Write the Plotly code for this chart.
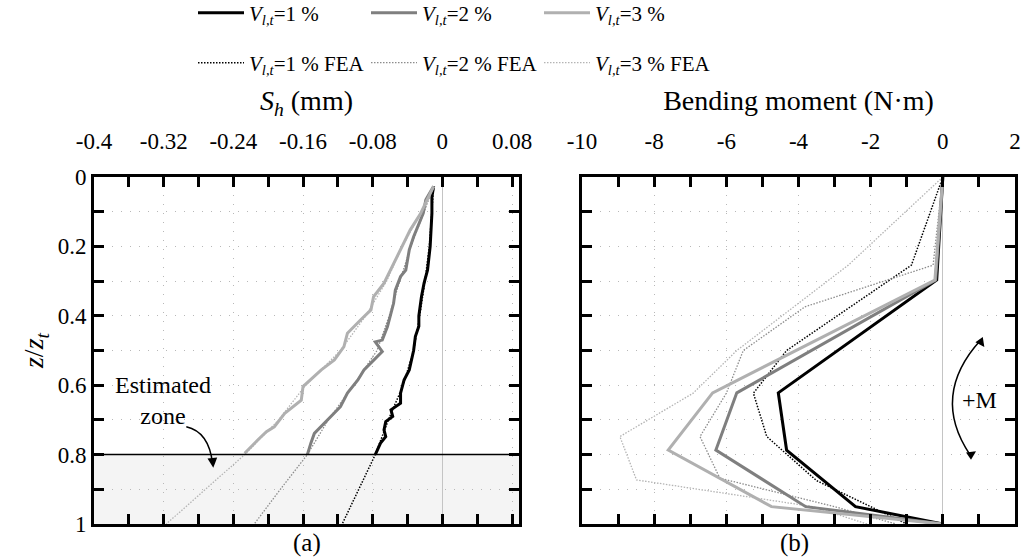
import plotly.graph_objects as go

# ---------------- data ----------------
# Panel (a): horizontal displacement S_h (mm) vs depth ratio z/z_t
sh_y_1 = [0.027, 0.057, 0.105, 0.20, 0.268, 0.306, 0.345, 0.40, 0.43, 0.46, 0.50, 0.527, 0.556, 0.585,
          0.623, 0.652, 0.671, 0.69, 0.705, 0.729, 0.748, 0.767, 0.787, 0.80]
sh_x_1 = [-0.010, -0.012, -0.012, -0.014, -0.017, -0.021, -0.024, -0.027, -0.027, -0.031, -0.033, -0.035,
          -0.038, -0.044, -0.048, -0.048, -0.059, -0.057, -0.065, -0.067, -0.065, -0.071, -0.075, -0.077]

sh_y_2 = [0.027, 0.066, 0.105, 0.172, 0.21, 0.268, 0.287, 0.326, 0.364, 0.431, 0.47, 0.475, 0.503, 0.527,
          0.556, 0.585, 0.623, 0.662, 0.70, 0.739, 0.767, 0.80]
sh_x_2 = [-0.010, -0.019, -0.022, -0.033, -0.038, -0.042, -0.048, -0.054, -0.056, -0.063, -0.069, -0.077,
          -0.069, -0.079, -0.090, -0.097, -0.109, -0.117, -0.132, -0.147, -0.151, -0.155]

sh_y_3 = [0.027, 0.076, 0.105, 0.153, 0.20, 0.249, 0.287, 0.306, 0.345, 0.383, 0.412, 0.45, 0.489, 0.527,
          0.556, 0.575, 0.604, 0.643, 0.662, 0.681, 0.72, 0.734, 0.758, 0.796]
sh_x_3 = [-0.010, -0.020, -0.025, -0.037, -0.046, -0.056, -0.063, -0.067, -0.079, -0.082, -0.094, -0.109,
          -0.113, -0.124, -0.139, -0.147, -0.160, -0.162, -0.172, -0.181, -0.193, -0.202, -0.212, -0.227]

sh_fea_y = [0.027, 0.1, 0.2, 0.3, 0.4, 0.5, 0.6, 0.7, 0.8, 0.9, 1.0]
sh_fea_1 = [-0.010, -0.012, -0.015, -0.020, -0.026, -0.033, -0.045, -0.062, -0.077, -0.096, -0.115]
sh_fea_2 = [-0.010, -0.021, -0.036, -0.049, -0.061, -0.075, -0.102, -0.131, -0.155, -0.186, -0.216]
sh_fea_3 = [-0.010, -0.024, -0.046, -0.064, -0.088, -0.117, -0.157, -0.188, -0.227, -0.272, -0.317]

# Panel (b): bending moment (N·m) vs z/z_t
bm_y = [0.0, 0.297, 0.622, 0.787, 0.95, 1.0]
bm_1 = [0.0, -0.17, -4.56, -4.33, -2.42, 0.0]
bm_2 = [0.0, -0.20, -5.71, -6.29, -3.80, 0.0]
bm_3 = [0.0, -0.22, -6.38, -7.61, -4.75, 0.0]

bm_fea_y_1 = [0.0, 0.254, 0.50, 0.623, 0.748, 0.875, 1.0]
bm_fea_1 = [0.0, -0.87, -4.33, -5.25, -4.88, -3.50, -1.00]
bm_fea_y_2 = [0.0, 0.254, 0.374, 0.50, 0.623, 0.748, 0.868, 0.95, 1.0]
bm_fea_2 = [0.0, -0.27, -3.82, -5.53, -6.00, -6.73, -6.18, -3.00, -1.30]
bm_fea_y_3 = [0.0, 0.254, 0.50, 0.623, 0.748, 0.873, 0.95, 1.0]
bm_fea_3 = [0.0, -2.62, -5.71, -6.92, -8.95, -8.49, -3.60, -2.10]

# axis ticks
sh_tickvals = [-0.4, -0.32, -0.24, -0.16, -0.08, 0.0, 0.08]
sh_ticktext = ["-0.4", "-0.32", "-0.24", "-0.16", "-0.08", "0", "0.08"]
bm_tickvals = [-10, -8, -6, -4, -2, 0, 2]
bm_ticktext = ["-10", "-8", "-6", "-4", "-2", "0", "2"]
z_tickvals = [0, 0.1, 0.2, 0.3, 0.4, 0.5, 0.6, 0.7, 0.8, 0.9, 1.0]
z_ticktext = ["0", "", "0.2", "", "0.4", "", "0.6", "", "0.8", "", "1"]

series_names = ["<i>V</i><sub><i>l,t</i></sub>=1 %", "<i>V</i><sub><i>l,t</i></sub>=2 %",
                "<i>V</i><sub><i>l,t</i></sub>=3 %"]
fea_names = [n + " FEA" for n in series_names]

# ---------------- style ----------------
FONT = "Liberation Serif"
TICK_FS = 23
TITLE_FS = 28
LEG_FS = 21
W, H = 1023, 559
solid_colors = ["#000000", "#7f7f7f", "#b0b0b0"]
fea_colors = ["#000000", "#8c8c8c", "#b4b4b4"]
fea_widths = [1.5, 1.3, 1.3]
FEA_DASH = "1.5px,1.5px"

fig = go.Figure()

sh_exp = [(sh_x_1, sh_y_1), (sh_x_2, sh_y_2), (sh_x_3, sh_y_3)]
sh_fea = [sh_fea_1, sh_fea_2, sh_fea_3]
bm_exp = [bm_1, bm_2, bm_3]
bm_fea = [(bm_fea_1, bm_fea_y_1), (bm_fea_2, bm_fea_y_2), (bm_fea_3, bm_fea_y_3)]

# FEA (dotted) first so solid lines sit on top
for i in range(3):
    fig.add_trace(go.Scatter(x=sh_fea[i], y=sh_fea_y, mode="lines", name=fea_names[i],
                             line=dict(color=fea_colors[i], width=fea_widths[i], dash=FEA_DASH),
                             legend="legend2", legendrank=i, xaxis="x", yaxis="y"))
    fig.add_trace(go.Scatter(x=bm_fea[i][0], y=bm_fea[i][1], mode="lines", name=fea_names[i],
                             line=dict(color=fea_colors[i], width=fea_widths[i], dash=FEA_DASH),
                             showlegend=False, xaxis="x2", yaxis="y2"))
for i in range(3):
    fig.add_trace(go.Scatter(x=sh_exp[i][0], y=sh_exp[i][1], mode="lines", name=series_names[i],
                             line=dict(color=solid_colors[i], width=3), legend="legend",
                             legendrank=i, xaxis="x", yaxis="y"))
    fig.add_trace(go.Scatter(x=bm_exp[i], y=bm_y, mode="lines", name=series_names[i],
                             line=dict(color=solid_colors[i], width=3), showlegend=False,
                             xaxis="x2", yaxis="y2"))

ydom = [(H - 524) / H, (H - 177) / H]
x1dom = [94 / W, 519 / W]
x2dom = [582 / W, 1015 / W]

common_axis = dict(
    showline=True, linewidth=3, linecolor="black", mirror="allticks",
    ticks="inside", ticklen=10, tickwidth=3, tickcolor="black",
    showgrid=True, gridcolor="#b8b8b8", gridwidth=1, griddash="1px,8px",
    tickfont=dict(family=FONT, size=TICK_FS, color="black"), automargin=False,
)

legend_common = dict(orientation="h", x=193 / W, xanchor="left", yanchor="middle",
                     entrywidth=112, entrywidthmode="pixels", traceorder="normal",
                     font=dict(family=FONT, size=LEG_FS), bgcolor="rgba(0,0,0,0)",
                     itemwidth=46)

fig.update_layout(
    width=W, height=H, margin=dict(l=0, r=0, t=0, b=0, autoexpand=False),
    paper_bgcolor="white", plot_bgcolor="white",
    font=dict(family=FONT, size=TICK_FS, color="black"),
    xaxis=dict(domain=x1dom, anchor="y", side="top", range=[-0.4, 0.088],
               tickmode="array", tickvals=sh_tickvals, ticktext=sh_ticktext,
               zeroline=True, zerolinecolor="#c4c4c4", zerolinewidth=1,
               minor=dict(tickmode="linear", tick0=-0.4, dtick=0.04, ticks="inside",
                          ticklen=10, tickwidth=3, tickcolor="black", showgrid=False),
               ticklabelstandoff=16,
               title=dict(text="<i>S</i><sub><i>h</i></sub> (mm)", standoff=10,
                          font=dict(family=FONT, size=TITLE_FS)),
               **common_axis),
    yaxis=dict(domain=ydom, anchor="x", range=[1, 0], tickmode="array",
               tickvals=z_tickvals, ticktext=z_ticktext, zeroline=False,
               ticklabelstandoff=0,
               title=dict(text="<i>z</i>/<i>z</i><sub><i>t</i></sub>", standoff=6,
                          font=dict(family=FONT, size=TITLE_FS)),
               **common_axis),
    xaxis2=dict(domain=x2dom, anchor="y2", side="top", range=[-10, 2],
                tickmode="array", tickvals=bm_tickvals, ticktext=bm_ticktext,
                zeroline=True, zerolinecolor="#c4c4c4", zerolinewidth=1,
                minor=dict(tickmode="linear", tick0=-10, dtick=1, ticks="inside",
                           ticklen=10, tickwidth=3, tickcolor="black", showgrid=False),
                ticklabelstandoff=16,
                title=dict(text="Bending moment (N·m)", standoff=10,
                           font=dict(family=FONT, size=TITLE_FS)),
                **common_axis),
    yaxis2=dict(domain=ydom, anchor="x2", range=[1, 0], tickmode="array",
                tickvals=z_tickvals, ticktext=z_ticktext, zeroline=False,
                showticklabels=False, **common_axis),
    legend=dict(y=1 - 13 / H, **legend_common),
    legend2=dict(y=1 - 63 / H, **legend_common),
)

# Estimated zone shading and boundary line
fig.add_shape(type="rect", xref="x", yref="y", x0=-0.4, x1=0.088, y0=0.8, y1=1.0,
              fillcolor="#f4f4f4", line=dict(width=0), layer="below")
fig.add_shape(type="line", xref="x", yref="y", x0=-0.4, x1=0.088, y0=0.8, y1=0.8,
              line=dict(color="black", width=1.5), layer="above")

# Curved arrow for "Estimated zone"
fig.add_shape(type="path", xref="x", yref="y",
              path="M -0.294,0.72 Q -0.268,0.735 -0.264,0.825",
              line=dict(color="black", width=1.5))
fig.add_annotation(x=-0.263, y=0.838, xref="x", yref="y", ax=-1, ay=-10, text="",
                   showarrow=True, arrowhead=2, arrowsize=1.3, arrowwidth=1.5, arrowcolor="black")
fig.add_annotation(x=-0.321, y=0.643, xref="x", yref="y", text="Estimated<br>zone",
                   showarrow=False, font=dict(family=FONT, size=24), align="center",
                   xanchor="center", yanchor="middle")

# +M rotation symbol
fig.add_shape(type="path", xref="x2", yref="y2",
              path="M 1.05,0.47 Q -0.35,0.63 0.75,0.80",
              line=dict(color="black", width=1.5))
fig.add_annotation(x=1.15, y=0.49, xref="x2", yref="y2", ax=-5, ay=-7, text="",
                   showarrow=True, arrowhead=2, arrowsize=1.2, arrowwidth=1.5, arrowcolor="black")
fig.add_annotation(x=0.92, y=0.79, xref="x2", yref="y2", ax=-6, ay=4, text="",
                   showarrow=True, arrowhead=2, arrowsize=1.2, arrowwidth=1.5, arrowcolor="black")
fig.add_annotation(x=1.02, y=0.643, xref="x2", yref="y2", text="+M", showarrow=False,
                   font=dict(family=FONT, size=24), xanchor="center", yanchor="middle")

# panel labels
fig.add_annotation(x=307 / W, y=1 - 543 / H, xref="paper", yref="paper", text="(a)",
                   showarrow=False, font=dict(family=FONT, size=25),
                   xanchor="center", yanchor="middle")
fig.add_annotation(x=794 / W, y=1 - 543 / H, xref="paper", yref="paper", text="(b)",
                   showarrow=False, font=dict(family=FONT, size=25),
                   xanchor="center", yanchor="middle")

fig.write_html("out.html")
